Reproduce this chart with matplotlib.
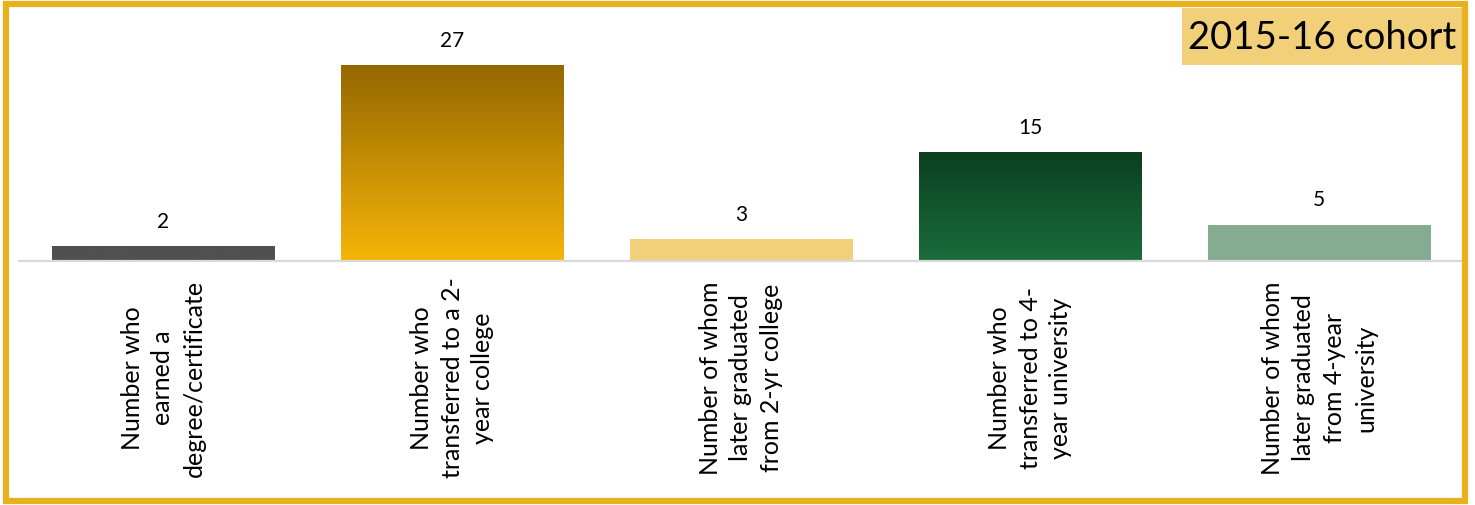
import numpy as np
import matplotlib
matplotlib.use('Agg')
import matplotlib.pyplot as plt
from matplotlib.patches import Rectangle
from matplotlib.colors import LinearSegmentedColormap

# ========= data ==========================================
categories = [
    "Number who\nearned a\ndegree/certificate",
    "Number who\ntransferred to a 2-\nyear college",
    "Number of whom\nlater graduated\nfrom 2-yr college",
    "Number who\ntransferred to 4-\nyear university",
    "Number of whom\nlater graduated\nfrom 4-year\nuniversity",
]
values = [2, 27, 3, 15, 5]
title_text = "2015-16 cohort"

# bar fills: (top colour, bottom colour); same colour = flat
bar_colors = [
    ("#505050", "#505050"),
    ("#946700", "#F7B509"),
    ("#F2D07A", "#F2D07A"),
    ("#0B3F1F", "#1A6C3B"),
    ("#85AC90", "#85AC90"),
]
# =========================================================

W, H = 1475, 506
fig = plt.figure(figsize=(W / 100, H / 100), dpi=100)
fig.patch.set_facecolor('white')

ax = fig.add_axes([18.5 / W, (H - 262) / H, 1445 / W, 218 / H])
x = np.arange(len(values))
bars = ax.bar(x, values, width=0.77, color='none', zorder=2)

# gradient fills clipped to each bar
for b, (c_top, c_bot) in zip(bars, bar_colors):
    cmap = LinearSegmentedColormap.from_list('g', [c_bot, c_top])
    grad = np.linspace(0, 1, 256).reshape(-1, 1)
    x0, y0 = b.get_x(), b.get_y()
    im = ax.imshow(grad, cmap=cmap, origin='lower', aspect='auto',
                   extent=[x0, x0 + b.get_width(), y0, y0 + b.get_height()],
                   zorder=2)
    im.set_clip_path(b)

ax.set_xlim(-0.5, len(values) - 0.5)
ax.set_ylim(0, 30)

# value labels
for b, v in zip(bars, values):
    ax.annotate(str(v), (b.get_x() + b.get_width() / 2, b.get_height()),
                xytext=(0, 11), textcoords='offset points',
                ha='center', va='bottom', fontsize=15, family='Lato')

for s in ['top', 'right', 'left']:
    ax.spines[s].set_visible(False)
ax.spines['bottom'].set_color('#D9D9D9')
ax.spines['bottom'].set_linewidth(1.6)
ax.set_yticks([])
ax.set_xticks([])

# rotated category labels
for i, lab in enumerate(categories):
    xf = (18.5 + (i + 0.5) * 289) / W
    fig.text(xf, 1 - 378 / H, lab, rotation=90, ha='center', va='center',
             multialignment='center', fontsize=18, family='Lato',
             linespacing=1.42)

# title box
fig.patches.append(Rectangle((1182 / W, 1 - 66 / H), (1462 - 1182) / W, 57 / H,
                             transform=fig.transFigure, facecolor='#F2D07A',
                             edgecolor='none', zorder=3))
fig.text((1182 + 1462) / 2 / W, 1 - 38 / H, title_text, ha='center', va='center',
         fontsize=27.5, family='Lato', zorder=4)

# outer frame
fig.patches.append(Rectangle((6 / W, 4 / H), (1465 - 6) / W, (502 - 5) / H,
                             transform=fig.transFigure, facecolor='none',
                             edgecolor='#E9B11E', linewidth=4.5, zorder=5))

fig.savefig('out.png', dpi=100)
